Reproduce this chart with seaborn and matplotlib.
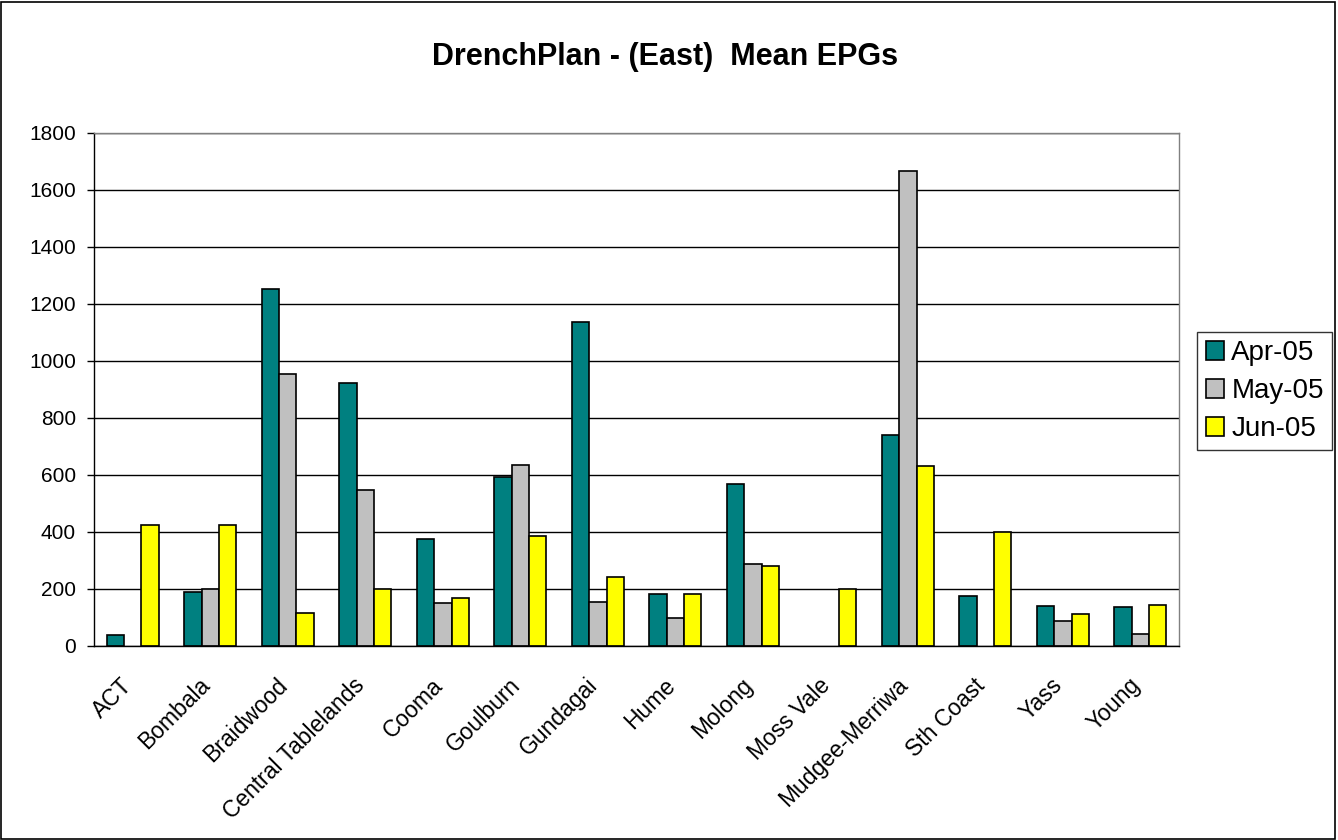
import numpy as np
import pandas as pd
import matplotlib
matplotlib.use('Agg')
import matplotlib.pyplot as plt
import matplotlib.transforms as mtransforms
import seaborn as sns

regions = ['ACT', 'Bombala', 'Braidwood', 'Central Tablelands', 'Cooma', 'Goulburn',
           'Gundagai', 'Hume', 'Molong', 'Moss Vale', 'Mudgee-Merriwa', 'Sth Coast',
           'Yass', 'Young']
months = ['Apr-05', 'May-05', 'Jun-05']
apr = [40, 189, 1253, 924, 377, 594, 1137, 183, 570, np.nan, 739, 177, 140, 135]
may = [np.nan, 200, 953, 547, 150, 634, 155, 97, 286, np.nan, 1668, np.nan, 86, 42]
jun = [425, 425, 114, 200, 169, 386, 242, 183, 279, 200, 633, 400, 111, 145]
colors = ['#008080', '#C0C0C0', '#FFFF00']

df = pd.DataFrame({'Region': regions * 3,
                   'Month': [m for m in months for _ in regions],
                   'EPG': apr + may + jun})

sns.set_style('white')
plt.rcParams['font.family'] = ['Liberation Sans', 'DejaVu Sans']
plt.rcParams['text.color'] = 'black'
plt.rcParams['xtick.color'] = 'black'
plt.rcParams['ytick.color'] = 'black'

fig = plt.figure(figsize=(13.38, 8.4), dpi=100)
ax = fig.add_axes([0.0703, 0.231, 0.811, 0.6107])

sns.barplot(data=df, x='Region', y='EPG', hue='Month', order=regions, hue_order=months,
            palette=colors, width=0.67, edgecolor='black', linewidth=1.2,
            errorbar=None, saturation=1, ax=ax)

ax.set_ylim(0, 1800)
ax.set_xlim(-0.5, len(regions) - 0.5)
ax.set_yticks(np.arange(0, 1801, 200))
ax.yaxis.grid(True, color='black', linewidth=1)
ax.set_axisbelow(True)
ax.set_xlabel('')
ax.set_ylabel('')

# category labels centred, ticks sit on the boundaries between categories
ax.set_xticks(range(len(regions)))
ax.set_xticklabels(regions, rotation=45, ha='right', rotation_mode='anchor', fontsize=16.5)
ax.set_xticks(np.arange(-0.5, len(regions), 1), minor=True)
ax.tick_params(axis='x', which='major', length=0, pad=20)
ax.tick_params(axis='x', which='minor', length=5, width=1, color='black', direction='out')
ax.tick_params(axis='y', length=5, width=1, color='black', direction='out', labelsize=15,
               left=True, pad=8)
shift = mtransforms.ScaledTranslation(-12 / 100, 0, fig.dpi_scale_trans)
for lab in ax.get_xticklabels():
    lab.set_transform(lab.get_transform() + shift)

for s in ['left', 'bottom']:
    ax.spines[s].set_color('black')
    ax.spines[s].set_linewidth(1)
for s in ['top', 'right']:
    ax.spines[s].set_color('#808080')
    ax.spines[s].set_linewidth(1)

leg = ax.legend(loc='center left', bbox_to_anchor=(1.0166, 0.497), fontsize=20,
                frameon=True, fancybox=False, edgecolor='black', handlelength=0.68,
                handleheight=0.68, handletextpad=0.25, borderpad=0.3, labelspacing=0.43,
                borderaxespad=0)
leg.get_frame().set_linewidth(1)

fig.text(0.497, 0.932, 'DrenchPlan - (East)  Mean EPGs', ha='center', va='center',
         fontsize=22, fontweight='bold')

fig.patches.append(plt.Rectangle((0.001, 0.001), 0.997, 0.997, transform=fig.transFigure,
                                 fill=False, edgecolor='black', linewidth=1.2))

fig.savefig('out.png', dpi=100)
